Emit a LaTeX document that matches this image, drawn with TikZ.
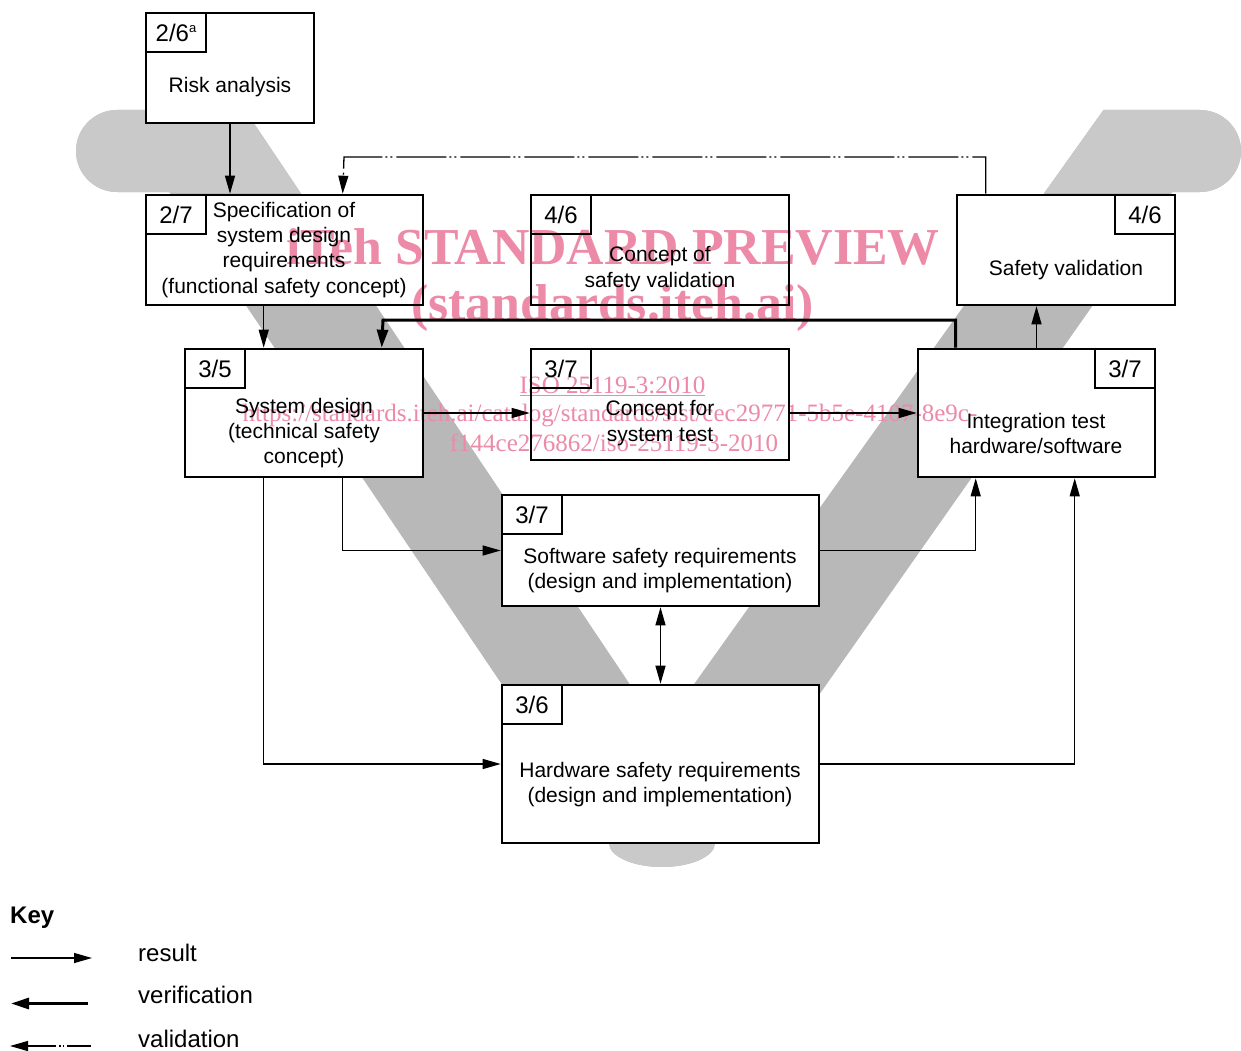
\documentclass[tikz,border=0pt]{standalone}
\usepackage{fontspec}
\setmainfont{Liberation Sans}
\newfontfamily\wmfont{Liberation Serif}
\usetikzlibrary{arrows.meta}
\pgfdeclarelayer{bg}
\pgfdeclarelayer{wm}
\pgfsetlayers{bg,wm,main}
\definecolor{armgray}{HTML}{B8B8B8}
\definecolor{capgray}{HTML}{C9C9C9}
\definecolor{wmpink}{HTML}{EC8AA8}
\def\myVpath{(117,110) -- (245,110) -- (660.9,730.6) -- (1103.5,110) -- (1200,110)
  .. controls (1222.6,110) and (1241,128.4) .. (1241,151)
  .. controls (1241,173.6) and (1222.6,192) .. (1200,192) -- (1172.4,192) -- (715,843)
  .. controls (715,856.3) and (691.3,867) .. (662,867)
  .. controls (632.7,867) and (609,856.3) .. (609,843) -- (169.3,192) -- (117,192)
  .. controls (94.4,192) and (76,173.6) .. (76,151)
  .. controls (76,128.4) and (94.4,110) .. (117,110) -- cycle}
\begin{document}
\begin{tikzpicture}[x=1pt,y=-1pt,
  box/.style={draw=black,line width=2.6pt,inner sep=0pt},
  tag/.style={draw=black,line width=2.6pt,inner sep=0pt,minimum width=60pt,minimum height=39pt,font=\fontsize{24}{24}\selectfont},
  txt/.style={inner sep=0pt,anchor=base,font=\fontsize{21}{25}\selectfont},
  keytxt/.style={inner sep=0pt,anchor=base west,font=\fontsize{24}{28}\selectfont},
  res/.style={line width=1.3pt,-{Triangle[length=18pt,width=10pt]}},
  ver/.style={line width=3pt,-{Triangle[length=18pt,width=11pt]}},
  val/.style={line width=1.3pt,dash pattern=on 50pt off 4pt on 2pt off 3pt on 2pt off 3pt,-{Triangle[length=18pt,width=10pt]}},
  valkey/.style={line width=1.3pt,dash pattern=on 24pt off 3pt on 1.5pt off 2pt on 1.5pt off 3pt on 80pt,-{Triangle[length=18pt,width=10pt]}},
  dbl/.style={line width=1.3pt,{Triangle[length=18pt,width=10pt]}-{Triangle[length=18pt,width=10pt]}},
  wmbig/.style={inner sep=0pt,anchor=base,text=wmpink,font=\wmfont\bfseries\fontsize{51.8}{56}\selectfont},
  wmsmall/.style={inner sep=0pt,anchor=base,text=wmpink,font=\wmfont\fontsize{25}{28}\selectfont}]
\useasboundingbox (0,0) rectangle (1241,1051);

% ---- boxes
\node[box,minimum width=168pt,minimum height=110pt] (risk) at (230,68) {};
\node[box,minimum width=277pt,minimum height=110pt] (spec) at (284.5,250) {};
\node[box,minimum width=258pt,minimum height=110pt] (csv) at (660,250) {};
\node[box,minimum width=218pt,minimum height=110pt] (sv) at (1066,250) {};
\node[box,minimum width=238pt,minimum height=128pt] (sd) at (304,413) {};
\node[box,minimum width=258pt,minimum height=111pt] (cst) at (660,404.5) {};
\node[box,minimum width=237pt,minimum height=128pt] (it) at (1036.5,413) {};
\node[box,minimum width=317pt,minimum height=111pt] (sw) at (660.5,550.5) {};
\node[box,minimum width=317pt,minimum height=158pt] (hw) at (660.5,764) {};

% ---- tags
\node[tag,anchor=north west] (riskt) at (risk.north west) {2/6\raisebox{9pt}{\fontsize{13}{13}\selectfont a}};
\node[tag,anchor=north west] (spect) at (spec.north west) {2/7};
\node[tag,anchor=north west] (csvt) at (csv.north west) {4/6};
\node[tag,anchor=north east] (svt) at (sv.north east) {4/6};
\node[tag,anchor=north west] (sdt) at (sd.north west) {3/5};
\node[tag,anchor=north west] (cstt) at (cst.north west) {3/7};
\node[tag,anchor=north east] (itt) at (it.north east) {3/7};
\node[tag,anchor=north west] (swt) at (sw.north west) {3/7};
\node[tag,anchor=north west] (hwt) at (hw.north west) {3/6};

% ---- background: V band and white box fills
\begin{pgfonlayer}{bg}
  \fill[armgray] \myVpath;
  \begin{scope}
    \clip (0,100) rectangle (1241,193) (0,844) rectangle (1241,880);
    \fill[capgray] \myVpath;
  \end{scope}
  \foreach \b in {risk,spec,csv,sv,sd,cst,it,sw,hw}
    \fill[white] (\b.north west) rectangle (\b.south east);
\end{pgfonlayer}

% ---- box texts
\node[txt] (risk1) at (230,93) {Risk analysis};
\node[txt] (spec1) at (284,217) {Specification of};
\node[txt] (spec2) at (284,242) {system design};
\node[txt] (spec3) at (284,267) {requirements};
\node[txt] (spec4) at (284,293) {(functional safety concept)};
\node[txt] (csv1) at (660,261.5) {Concept of};
\node[txt] (csv2) at (660,287) {safety validation};
\node[txt] (sv1) at (1066,275) {Safety validation};
\node[txt] (sd1) at (304,413) {System design};
\node[txt] (sd2) at (304,438) {(technical safety};
\node[txt] (sd3) at (304,463) {concept)};
\node[txt] (cst1) at (660,415.5) {Concept for};
\node[txt] (cst2) at (660,441) {system test};
\node[txt] (it1) at (1036,428) {Integration test};
\node[txt] (it2) at (1036,453) {hardware/software};
\node[txt] (sw1) at (660,563) {Software safety requirements};
\node[txt] (sw2) at (660,588) {(design and implementation)};
\node[txt] (hw1) at (660,777) {Hardware safety requirements};
\node[txt] (hw2) at (660,802) {(design and implementation)};

% ---- connectors
\draw[res] (risk.south) -- (risk.south |- spec.north);
\draw[val] ([xshift=30pt]sv.north west) |- (344,157) -- ([xshift=198pt]spec.north west);
\draw[res] ([xshift=119pt]spec.south west) -- ([xshift=80pt]sd.north west);
\draw[ver] ([xshift=39pt]it.north west) |- (383,320) -- ([xshift=198pt]sd.north west);
\draw[res] (sd.east) -- (sd.east -| cst.west);
\draw[res] (sd.east -| cst.east) -- (sd.east -| it.west);
\draw[res] (it.north) -- (it.north |- sv.south);
\draw[res] ([xshift=159pt]sd.south west) |- (sw.west);
\draw[res] ([xshift=80pt]sd.south west) |- (hw.west);
\draw[res] (sw.east) -| ([xshift=59pt]it.south west);
\draw[res] (hw.east) -| ([xshift=158pt]it.south west);
\draw[dbl] (sw.south) -- (hw.north);

% ---- watermark
\begin{pgfonlayer}{wm}
  \node[wmbig] (wm1) at (613,264) {iTeh STANDARD PREVIEW};
  \node[wmbig] (wm2) at (612.5,320) {(standards.iteh.ai)};
  \node[wmsmall] (wm3) at (612.5,393) {\underline{ISO 25119-3:2010}};
  \node[wmsmall] (wm4) at (610,421) {https://standards.iteh.ai/catalog/standards/sist/cec29771-5b5e-4107-8e9c-};
  \node[wmsmall] (wm5) at (614,451) {f144ce276862/iso-25119-3-2010};
\end{pgfonlayer}

% ---- key
\node[keytxt,font=\bfseries\fontsize{24}{28}\selectfont] (key) at (10,923) {Key};
\node[keytxt] (kres) at (138,961.5) {result};
\node[keytxt] (kver) at (138,1003.5) {verification};
\node[keytxt] (kval) at (138,1047) {validation};
\coordinate (kr1) at (11,958);
\coordinate (kr2) at (92,958);
\coordinate (kv1) at (88,1003.5);
\coordinate (kv2) at (11,1003.5);
\coordinate (kl1) at (91,1046);
\coordinate (kl2) at (10,1046);
\draw[res] (kr1) -- (kr2);
\draw[ver] (kv1) -- (kv2);
\draw[valkey] (kl1) -- (kl2);
\end{tikzpicture}
\end{document}
